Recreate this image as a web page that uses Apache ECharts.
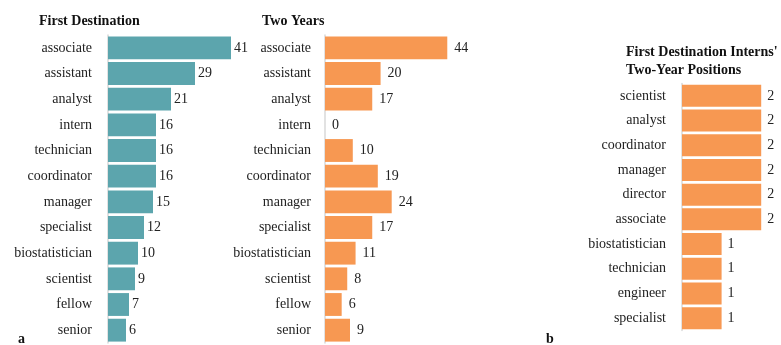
<!DOCTYPE html>
<html>
<head>
<meta charset="utf-8">
<script src="https://cdn.jsdelivr.net/npm/echarts@6/dist/echarts.min.js"></script>
<style>
  html, body { margin: 0; padding: 0; background: #fff; }
  #chart { width: 781px; height: 345px; }
</style>
</head>
<body>
<div id="chart"></div>
<script>
// Job titles at first destination and after two years
const firstCategories = ['associate', 'assistant', 'analyst', 'intern', 'technician', 'coordinator',
  'manager', 'specialist', 'biostatistician', 'scientist', 'fellow', 'senior'];
const firstValues = [41, 29, 21, 16, 16, 16, 15, 12, 10, 9, 7, 6];
const twoYearValues = [44, 20, 17, 0, 10, 19, 24, 17, 11, 8, 6, 9];

// Two-year positions of those who started as interns
const internCategories = ['scientist', 'analyst', 'coordinator', 'manager', 'director', 'associate',
  'biostatistician', 'technician', 'engineer', 'specialist'];
const internValues = [2, 2, 2, 2, 2, 2, 1, 1, 1, 1];

const TEAL = '#5ca5ad';
const ORANGE = '#f79852';
const SERIF = '"Liberation Serif", "DejaVu Serif", serif';

function catAxis(gridIndex, data, margin) {
  return {
    type: 'category', gridIndex, data, inverse: true,
    axisLine: { show: true, lineStyle: { color: '#d9d9d9', width: 1.5 } },
    axisTick: { show: false },
    axisLabel: { color: '#222', fontFamily: SERIF, fontSize: 14, margin }
  };
}
function valAxis(gridIndex, max) {
  return { type: 'value', gridIndex, min: 0, max, show: false };
}
function barSeries(idx, data, color, distance) {
  return {
    type: 'bar', xAxisIndex: idx, yAxisIndex: idx, data,
    barCategoryGap: '11%',
    itemStyle: { color },
    label: { show: true, position: 'right', distance, color: '#222', fontFamily: SERIF, fontSize: 14 },
    silent: true, animation: false
  };
}
const titleStyle = { fontFamily: SERIF, fontSize: 14, fontWeight: 'bold', color: '#111' };

const chart = echarts.init(document.getElementById('chart'));
chart.setOption({
  backgroundColor: '#fff',
  animation: false,
  title: [
    { text: 'First Destination', left: 34, top: 9, textStyle: titleStyle },
    { text: 'Two Years', left: 257, top: 9, textStyle: titleStyle },
    { text: "First Destination Interns'\nTwo-Year Positions", left: 621, top: 38,
      textStyle: Object.assign({}, titleStyle, { lineHeight: 18 }) },
    { text: 'a', left: 13, top: 327, textStyle: titleStyle },
    { text: 'b', left: 541, top: 327, textStyle: titleStyle }
  ],
  grid: [
    { left: 108, top: 35, width: 135, height: 308 },
    { left: 325, top: 35, width: 133.4, height: 308 },
    { left: 682, top: 83.5, width: 100, height: 247 }
  ],
  xAxis: [valAxis(0, 45), valAxis(1, 48), valAxis(2, 2.5)],
  yAxis: [
    catAxis(0, firstCategories, 16),
    catAxis(1, firstCategories, 14),
    catAxis(2, internCategories, 16)
  ],
  series: [
    barSeries(0, firstValues, TEAL, 3),
    barSeries(1, twoYearValues, ORANGE, 7),
    barSeries(2, internValues, ORANGE, 6)
  ]
});
</script>
</body>
</html>
